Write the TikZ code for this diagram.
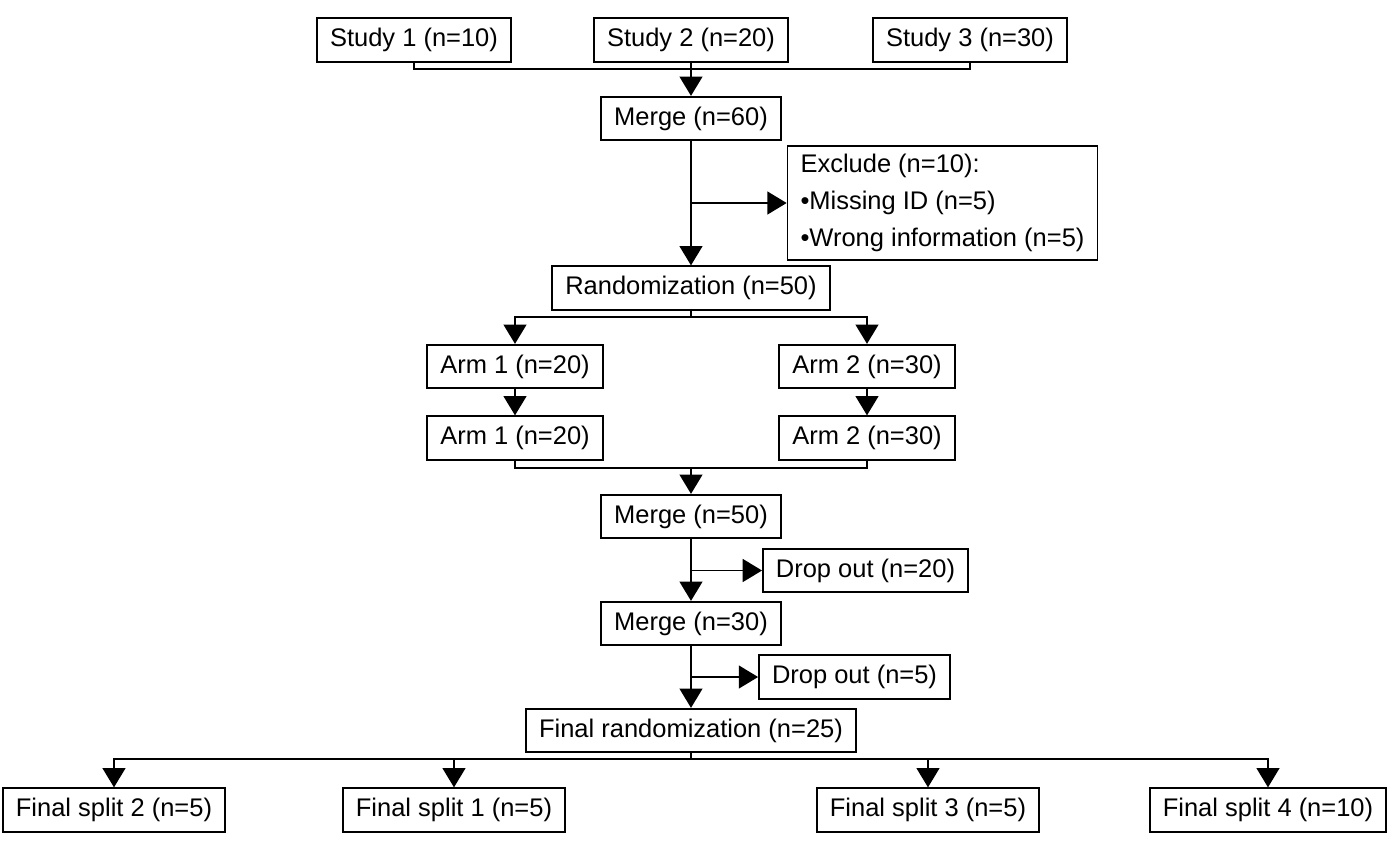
\documentclass[tikz,border=0pt]{standalone}
\usepackage{fontspec}
\setmainfont{Liberation Sans}
\usetikzlibrary{positioning,arrows.meta}
\tikzset{
    on grid,
    auto,
    block/.style = {
        draw,
        shape=rectangle,
        minimum height=0.87cm,
        inner xsep=0.26cm,
        inner ysep=0.1cm,
        line width=1pt,
        font=\fontsize{14.5}{17}\selectfont
    },
    listbox/.style = {
        block,
        align=left,
        inner ysep=0.16cm,
        font=\fontsize{14.5}{21}\selectfont
    },
    line/.style = {
        line width=1.1pt
    },
    >={Triangle[width=13pt,length=11pt]},
}

\begin{document}
\begin{tikzpicture}
    \useasboundingbox (-13.82,0.8) rectangle (14.18,-16.08);

    \node[block] (study2) at (0,0) {Study 2 (n=20)};
    \node[block, left=5.54cm of study2] (study1) {Study 1 (n=10)};
    \node[block, right=5.58cm of study2] (study3) {Study 3 (n=30)};
    \coordinate[below=0.58cm of study2] (j1);

    \node[block, below=1.57cm of study2] (merge1) {Merge (n=60)};
    \node[listbox, below right=1.69cm and 5.03cm of merge1] (excl)
        {Exclude (n=10):\\•Missing ID (n=5)\\•Wrong information (n=5)};
    \node[block, below=3.39cm of merge1] (rand) {Randomization (n=50)};
    \coordinate[below=0.58cm of rand] (j2);

    \node[block, below left=1.57cm and 3.52cm of rand] (arm1a) {Arm 1 (n=20)};
    \node[block, below right=1.57cm and 3.52cm of rand] (arm2a) {Arm 2 (n=30)};
    \node[block, below=1.43cm of arm1a] (arm1b) {Arm 1 (n=20)};
    \node[block, below=1.43cm of arm2a] (arm2b) {Arm 2 (n=30)};
    \coordinate[below=3.6cm of rand] (j3);

    \node[block, below=4.57cm of rand] (merge2) {Merge (n=50)};
    \node[block, below right=1.08cm and 3.49cm of merge2] (drop1) {Drop out (n=20)};
    \node[block, below=2.14cm of merge2] (merge3) {Merge (n=30)};
    \node[block, below right=1.07cm and 3.27cm of merge3] (drop2) {Drop out (n=5)};
    \node[block, below=2.14cm of merge3] (finrand) {Final randomization (n=25)};
    \coordinate[below=0.57cm of finrand] (j4);

    \node[block, below left=1.59cm and 11.54cm of finrand] (split2) {Final split 2 (n=5)};
    \node[block, below left=1.59cm and 4.74cm of finrand] (split1) {Final split 1 (n=5)};
    \node[block, below right=1.59cm and 4.74cm of finrand] (split3) {Final split 3 (n=5)};
    \node[block, below right=1.59cm and 11.54cm of finrand] (split4) {Final split 4 (n=10)};

    \path[draw, line, -] (study1.south) |- (j1) -| (study3.south);
    \path[draw, line, ->] (study2.south) -- (merge1.north);

    \path[draw, line, ->] (merge1.south) -- (rand.north);
    \path[draw, line, ->] (merge1.south |- excl.west) -- (excl.west);

    \path[draw, line, -] (rand.south) -- (j2);
    \path[draw, line, ->] (j2) -| (arm1a.north);
    \path[draw, line, ->] (j2) -| (arm2a.north);
    \path[draw, line, ->] (arm1a) -- (arm1b);
    \path[draw, line, ->] (arm2a) -- (arm2b);

    \path[draw, line, -] (arm1b.south) |- (j3) -| (arm2b.south);
    \path[draw, line, ->] (j3) -- (merge2.north);

    \path[draw, line, ->] (merge2) -- (merge3);
    \path[draw, line, ->] (merge2.south |- drop1.west) -- (drop1.west);
    \path[draw, line, ->] (merge3) -- (finrand);
    \path[draw, line, ->] (merge3.south |- drop2.west) -- (drop2.west);

    \path[draw, line, -] (finrand.south) -- (j4);
    \path[draw, line, ->] (j4) -| (split2.north);
    \path[draw, line, ->] (j4) -| (split1.north);
    \path[draw, line, ->] (j4) -| (split3.north);
    \path[draw, line, ->] (j4) -| (split4.north);
\end{tikzpicture}
\end{document}
